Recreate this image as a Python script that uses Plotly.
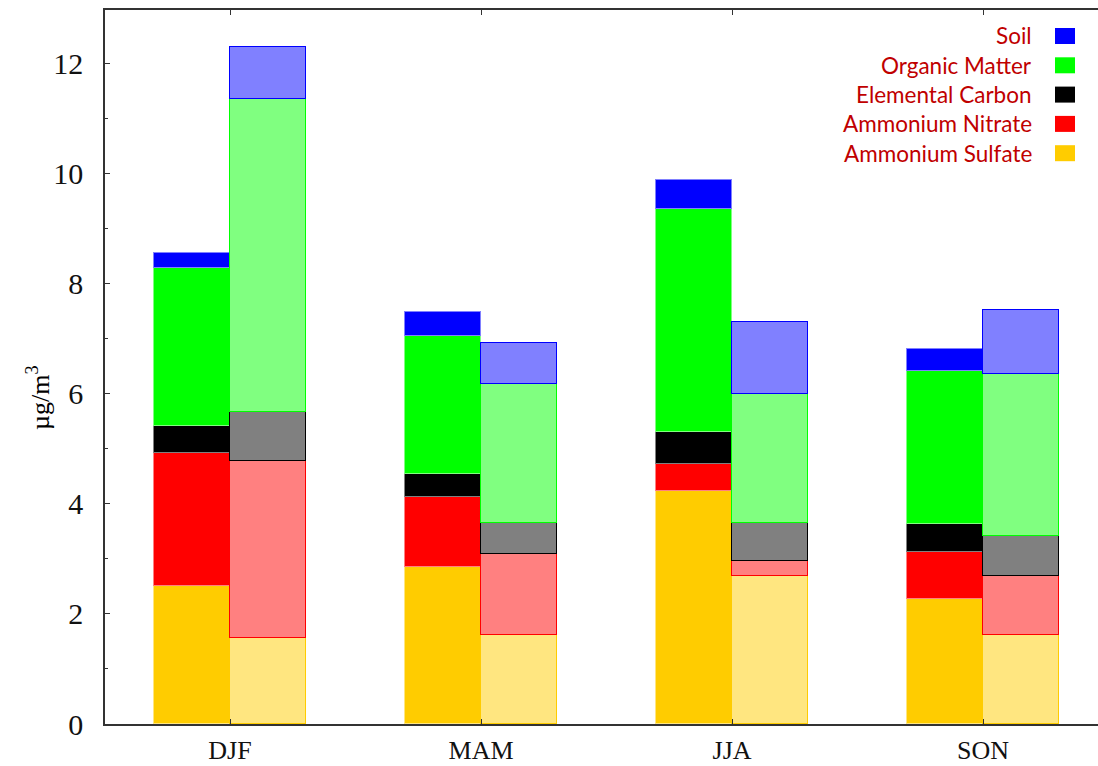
import plotly.graph_objects as go

seasons = ["DJF", "MAM", "JJA", "SON"]
components = ["Ammonium Sulfate", "Ammonium Nitrate", "Elemental Carbon",
              "Organic Matter", "Soil"]

# Segment heights (µg/m3), first bar of each season pair
sulfate_a = [2.50, 2.85, 4.24, 2.27]
nitrate_a = [2.43, 1.28, 0.49, 0.86]
ec_a = [0.49, 0.41, 0.57, 0.51]
om_a = [2.87, 2.52, 4.06, 2.78]
soil_a = [0.28, 0.43, 0.53, 0.40]

# Segment heights (µg/m3), second (lighter) bar of each season pair
sulfate_b = [1.56, 1.62, 2.69, 1.62]
nitrate_b = [3.23, 1.47, 0.27, 1.07]
ec_b = [0.89, 0.56, 0.69, 0.73]
om_b = [5.68, 2.54, 2.35, 2.94]
soil_b = [0.95, 0.74, 1.31, 1.17]

yticks = [0, 2, 4, 6, 8, 10, 12]

solid = ["#FFCC00", "#FF0000", "#000000", "#00FF00", "#0000FF"]
light = ["#FFE680", "#FF8080", "#808080", "#80FF80", "#8080FF"]

series_a = [sulfate_a, nitrate_a, ec_a, om_a, soil_a]
series_b = [sulfate_b, nitrate_b, ec_b, om_b, soil_b]

half = 0.303
pos = list(range(len(seasons)))
x_a = [p - half / 2 for p in pos]
x_b = [p + half / 2 for p in pos]

fig = go.Figure()
for name, vals, fc, lc in zip(components, series_a, solid, light):
    fig.add_trace(go.Bar(x=x_a, y=vals, width=half, name=name,
                         marker=dict(color=fc, line=dict(color=lc, width=1)),
                         showlegend=False))
for name, vals, fc, lc in zip(components, series_b, light, solid):
    fig.add_trace(go.Bar(x=x_b, y=vals, width=half, name=name,
                         marker=dict(color=fc, line=dict(color=lc, width=1.5)),
                         showlegend=False))

# Legend drawn as right-aligned labels with colour swatches
legend_items = list(zip(components, solid))[::-1]
for i, (name, col) in enumerate(legend_items):
    yc = 36 + i * 29.3
    yp = (724 - yc) / 714
    fig.add_annotation(x=(1034 - 105) / 993, y=yp, xref="paper", yref="paper",
                       text=name, showarrow=False, xanchor="right", yanchor="middle",
                       font=dict(family="Lato", size=22.5, color="#C00000"))
    fig.add_shape(type="rect", xref="paper", yref="paper",
                  x0=(1055 - 105) / 993, x1=(1075 - 105) / 993,
                  y0=(724 - yc - 8) / 714, y1=(724 - yc + 8) / 714,
                  fillcolor=col, line=dict(width=0))

fig.add_annotation(x=(38 - 105) / 993, y=(724 - 398) / 714, xref="paper", yref="paper",
                   text="µg/m<sup>3</sup>", textangle=-90, showarrow=False,
                   xanchor="center", yanchor="middle",
                   font=dict(family="Liberation Serif", size=26, color="#000000"))

fig.update_layout(
    width=1098, height=766,
    margin=dict(l=105, r=0, t=10, b=42),
    barmode="stack",
    plot_bgcolor="white", paper_bgcolor="white",
    bargap=0,
    font=dict(family="Liberation Serif", color="#111111"),
)
fig.update_xaxes(
    range=[-0.498, 3.458], tickvals=pos, ticktext=seasons,
    showgrid=False, zeroline=False, automargin=False,
    showline=True, linecolor="#333333", linewidth=1.5, mirror="ticks",
    ticks="inside", ticklen=5, tickcolor="#333333",
    tickfont=dict(family="Liberation Serif", size=26, color="#111111"),
    ticklabelstandoff=2,
)
fig.update_yaxes(
    range=[0, 12.98], tickvals=yticks,
    showgrid=False, zeroline=False, automargin=False,
    showline=True, linecolor="#333333", linewidth=1.5,
    ticks="inside", ticklen=5, tickcolor="#333333",
    minor=dict(ticks="inside", ticklen=3, dtick=1, tickcolor="#333333"),
    tickfont=dict(family="Liberation Serif", size=30, color="#111111"),
    ticklabelstandoff=14,
)

fig.write_html("out.html")
